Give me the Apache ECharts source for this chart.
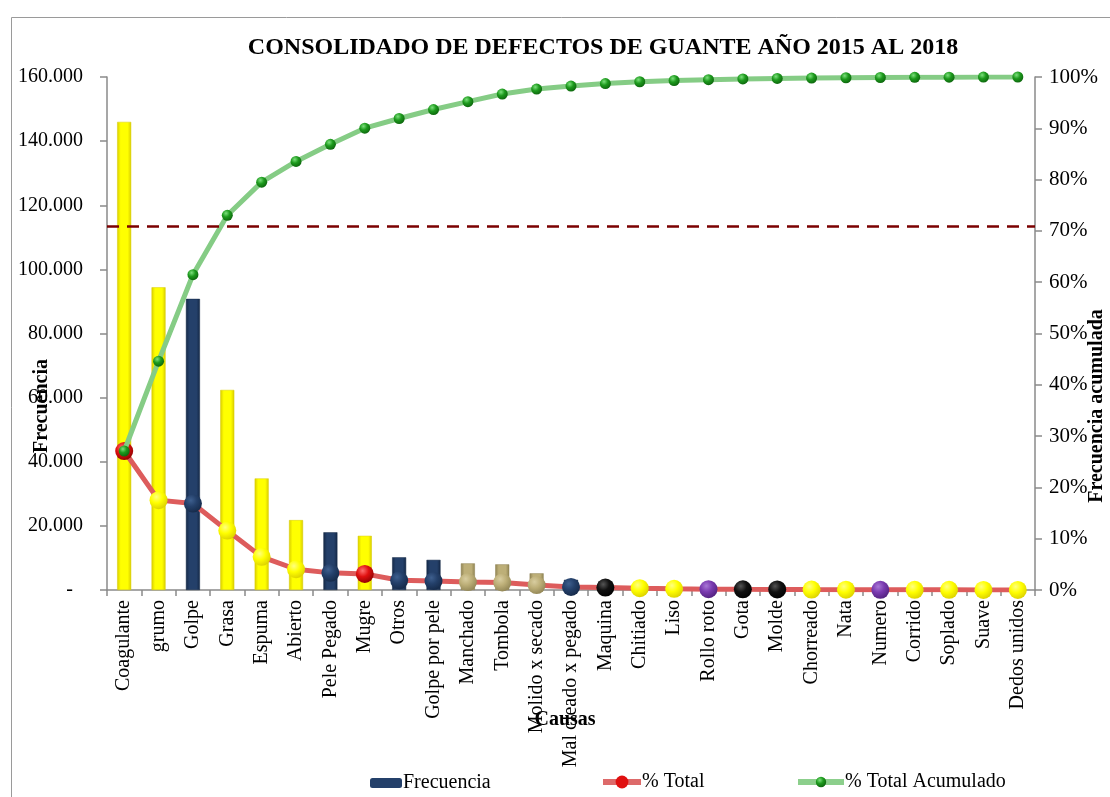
<!DOCTYPE html>
<html>
<head>
<meta charset="utf-8">
<title>Consolidado de defectos de guante</title>
<script src="https://cdn.jsdelivr.net/npm/echarts@6/dist/echarts.min.js"></script>
<style>
  html, body { margin: 0; padding: 0; background: #ffffff; }
  #chart { width: 1110px; height: 797px; }
</style>
</head>
<body>
<div id="chart"></div>
<script>
// Defect causes, ordered by frequency (Pareto order)
const causas = [
  'Coagulante', 'grumo', 'Golpe', 'Grasa', 'Espuma', 'Abierto', 'Pele Pegado',
  'Mugre', 'Otros', 'Golpe por pele', 'Manchado', 'Tombola', 'Molido x secado',
  'Mal cleado x pegado', 'Maquina', 'Chitiado', 'Liso', 'Rollo roto', 'Gota',
  'Molde', 'Chorreado', 'Nata', 'Numero', 'Corrido', 'Soplado', 'Suave', 'Dedos unidos'
];

// Number of defective gloves per cause, 2015-2018
const frecuencia = [
  146000, 94400, 90800, 62400, 34800, 21800, 18000,
  16900, 10200, 9400, 8300, 8000, 5200,
  3200, 2600, 1900, 1300, 900, 700,
  600, 400, 300, 250, 200, 150, 100, 80
];

// Colour group of each cause (bar fill and % marker)
const grupoBarra = [
  'yellow', 'yellow', 'navy', 'yellow', 'yellow', 'yellow', 'navy',
  'yellow', 'navy', 'navy', 'khaki', 'khaki', 'khaki',
  'navy', 'black', 'yellow', 'yellow', 'purple', 'black',
  'black', 'yellow', 'yellow', 'purple', 'yellow', 'yellow', 'yellow', 'yellow'
];
const grupoMarcador = [
  'red', 'yellow', 'navy', 'yellow', 'yellow', 'yellow', 'navy',
  'red', 'navy', 'navy', 'khaki', 'khaki', 'khaki',
  'navy', 'black', 'yellow', 'yellow', 'purple', 'black',
  'black', 'yellow', 'yellow', 'purple', 'yellow', 'yellow', 'yellow', 'yellow'
];

// Reference level drawn as dashed line on the percentage axis
const lineaReferencia = 0.71;

const ticksFrecuencia = { min: 0, max: 160000, interval: 20000 };
const ticksPorcentaje = { min: 0, max: 1, interval: 0.1 };

// Pareto percentages derived from the counts
const total = frecuencia.reduce((a, b) => a + b, 0);
const porcTotal = frecuencia.map(v => v / total);
const porcAcum = [];
frecuencia.reduce((acc, v) => { acc += v; porcAcum.push(acc / total); return acc; }, 0);

const SERIF = '"Liberation Serif", "Times New Roman", serif';

const palette = {
  yellow: { base: '#FFFF00', dark: '#D8CC00', light: '#FFFF80' },
  navy:   { base: '#24406A', dark: '#142846', light: '#3E5F8E' },
  khaki:  { base: '#BDAF78', dark: '#8E8252', light: '#D8CDA0' },
  black:  { base: '#111111', dark: '#000000', light: '#555555' },
  purple: { base: '#7A3AB0', dark: '#4E1F7A', light: '#A878D6' },
  red:    { base: '#E01010', dark: '#8A0000', light: '#FF7070' },
  green:  { base: '#1D9A1D', dark: '#0B600B', light: '#7CE07C' }
};

function barFill(name) {
  const p = palette[name];
  return new echarts.graphic.LinearGradient(0, 0, 1, 0, [
    { offset: 0, color: p.dark },
    { offset: 0.25, color: p.base },
    { offset: 0.75, color: p.base },
    { offset: 1, color: p.dark }
  ]);
}
function sphere(name) {
  const p = palette[name];
  return new echarts.graphic.RadialGradient(0.38, 0.32, 0.75, [
    { offset: 0, color: p.light },
    { offset: 0.45, color: p.base },
    { offset: 1, color: p.dark }
  ]);
}

function fmtMiles(v) {
  if (v === 0) return '-  ';
  return String(v).replace(/\B(?=(\d{3})+(?!\d))/g, '.');
}

const chart = echarts.init(document.getElementById('chart'), null, { renderer: 'canvas' });

const legendText = { fontFamily: SERIF, fontSize: 20, color: '#000', padding: [0, 0, 0, -4] };

const option = {
  backgroundColor: '#ffffff',
  animation: false,
  title: {
    text: 'CONSOLIDADO DE DEFECTOS DE GUANTE AÑO 2015 AL 2018',
    left: 598, top: 31, textAlign: 'center',
    textStyle: { fontFamily: SERIF, fontSize: 24, fontWeight: 'bold', color: '#000' }
  },
  legend: [
    {
      data: ['Frecuencia'], left: 365, top: 768, itemWidth: 32, itemHeight: 10,
      textStyle: legendText
    },
    {
      data: ['% Total'], left: 595, top: 767, itemWidth: 38, itemHeight: 16,
      lineStyle: { width: 6, color: '#DD6A6A' },
      textStyle: legendText
    },
    {
      data: ['% Total Acumulado'], left: 790, top: 767, itemWidth: 46, itemHeight: 13,
      lineStyle: { width: 6, color: '#8CCF8C' },
      textStyle: legendText
    }
  ],
  grid: { left: 107, right: 75, top: 77, bottom: 207, containLabel: false },
  xAxis: {
    type: 'category',
    data: causas,
    boundaryGap: true,
    axisLine: { lineStyle: { color: '#8a8a8a', width: 1.5 } },
    axisTick: { show: true, length: 6, lineStyle: { color: '#8a8a8a', width: 1.5 } },
    axisLabel: {
      rotate: 90, interval: 0, margin: 10,
      fontFamily: SERIF, fontSize: 20, color: '#000'
    }
  },
  yAxis: [
    {
      type: 'value', min: ticksFrecuencia.min, max: ticksFrecuencia.max, interval: ticksFrecuencia.interval,
      axisLine: { show: true, lineStyle: { color: '#8a8a8a', width: 1.5 } },
      axisTick: { show: true, length: 7, lineStyle: { color: '#8a8a8a', width: 1.5 } },
      splitLine: { show: false },
      axisLabel: { formatter: fmtMiles, margin: 24, fontFamily: SERIF, fontSize: 20, color: '#000' }
    },
    {
      type: 'value', min: ticksPorcentaje.min, max: ticksPorcentaje.max, interval: ticksPorcentaje.interval,
      position: 'right',
      axisLine: { show: true, lineStyle: { color: '#8a8a8a', width: 1.5 } },
      axisTick: { show: true, length: 7, lineStyle: { color: '#8a8a8a', width: 1.5 } },
      splitLine: { show: false },
      axisLabel: {
        formatter: v => Math.round(v * 100) + '%',
        margin: 14, fontFamily: SERIF, fontSize: 21, color: '#000'
      }
    }
  ],
  series: [
    {
      name: 'Frecuencia',
      type: 'bar',
      barWidth: 14,
      yAxisIndex: 0,
      z: 2,
      itemStyle: { color: palette.navy.base },
      data: frecuencia.map((v, i) => ({
        value: v,
        itemStyle: { color: barFill(grupoBarra[i]), borderColor: palette[grupoBarra[i]].dark, borderWidth: 0.5 }
      }))
    },
    {
      name: '% Total',
      type: 'line',
      yAxisIndex: 1,
      z: 3,
      symbol: 'circle',
      symbolSize: 18,
      lineStyle: { color: '#DD5C5C', width: 5 },
      itemStyle: { color: palette.red.base },
      data: porcTotal.map((v, i) => ({
        value: v,
        itemStyle: { color: sphere(grupoMarcador[i]), borderWidth: 0 }
      })),
      markLine: {
        silent: true,
        symbol: ['none', 'none'],
        label: { show: false },
        lineStyle: { color: '#7B0000', width: 2.5, type: [12, 8] },
        data: [{ yAxis: lineaReferencia }]
      }
    },
    {
      name: '% Total Acumulado',
      type: 'line',
      yAxisIndex: 1,
      z: 4,
      symbol: 'circle',
      symbolSize: 11,
      lineStyle: { color: '#85CC85', width: 5 },
      itemStyle: { color: sphere('green'), borderWidth: 0 },
      data: porcAcum
    }
  ],
  graphic: [
    {
      type: 'rect', left: 9, top: 15, silent: true,
      shape: { width: 1130, height: 820 },
      style: { fill: 'none', stroke: '#9a9a9a', lineWidth: 1 }
    },
    {
      type: 'text', x: 42, y: 406, rotation: Math.PI / 2, silent: true,
      style: {
        text: 'Frecuencia', fontFamily: SERIF, fontSize: 20, fontWeight: 'bold',
        fill: '#000', align: 'center', verticalAlign: 'middle'
      }
    },
    {
      type: 'text', x: 1097, y: 406, rotation: Math.PI / 2, silent: true,
      style: {
        text: 'Frecuencia acumulada', fontFamily: SERIF, fontSize: 20, fontWeight: 'bold',
        fill: '#000', align: 'center', verticalAlign: 'middle'
      }
    },
    {
      type: 'text', x: 565, y: 720, silent: true, z: 100,
      style: {
        text: 'Causas', fontFamily: SERIF, fontSize: 20, fontWeight: 'bold',
        fill: '#000', align: 'center', verticalAlign: 'middle'
      }
    }
  ]
};

chart.setOption(option);
</script>
</body>
</html>
